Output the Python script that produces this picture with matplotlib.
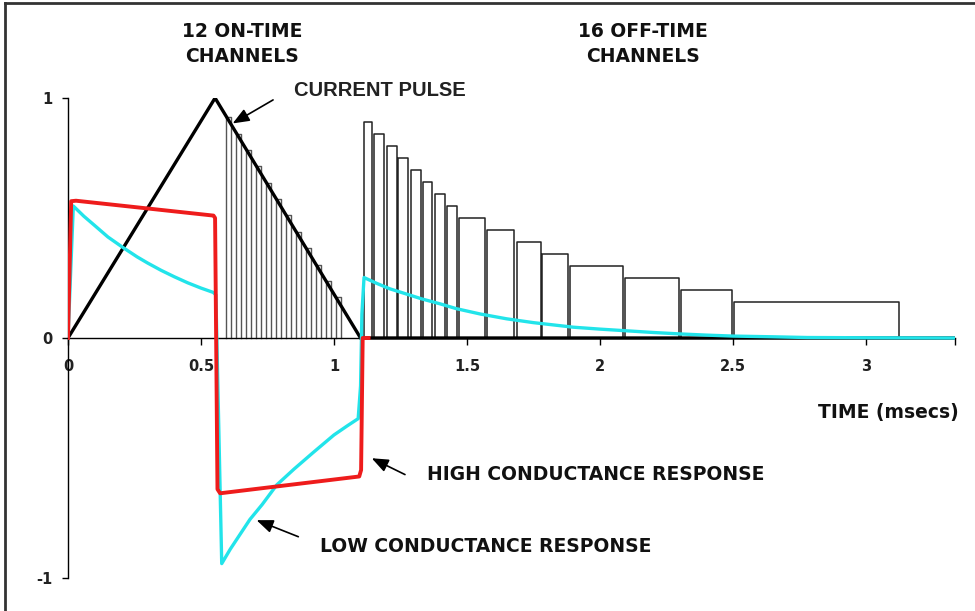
import matplotlib
matplotlib.use("Agg")
import matplotlib.pyplot as plt
from matplotlib.lines import Line2D

plt.rcParams["axes.unicode_minus"] = False

# Pulso de corrente (triangulo) e canais
pulse_t = [0.0, 0.553, 1.10, 3.335]
pulse_v = [0.0, 1.0, 0.0, 0.0]

# 12 canais on-time (inicio, fim, altura)
on_start = [0.594, 0.632, 0.669, 0.707, 0.744, 0.782, 0.820, 0.857, 0.895, 0.932, 0.970, 1.008]
on_end = [0.613, 0.651, 0.688, 0.726, 0.763, 0.801, 0.839, 0.876, 0.914, 0.951, 0.989, 1.027]
on_height = [0.92, 0.851, 0.784, 0.716, 0.647, 0.579, 0.511, 0.442, 0.374, 0.306, 0.237, 0.169]

# 16 canais off-time
off_start = [1.113, 1.150, 1.199, 1.241, 1.289, 1.335, 1.380, 1.425,
             1.470, 1.575, 1.688, 1.782, 1.887, 2.094, 2.305, 2.504]
off_end = [1.143, 1.188, 1.237, 1.278, 1.327, 1.368, 1.417, 1.462,
           1.568, 1.677, 1.778, 1.880, 2.086, 2.297, 2.496, 3.124]
off_height = [0.90, 0.85, 0.80, 0.75, 0.70, 0.65, 0.60, 0.55,
              0.50, 0.45, 0.40, 0.35, 0.30, 0.25, 0.20, 0.15]

# Resposta de alta condutancia (vermelho)
high_t = [0.0, 0.012, 0.03, 0.547, 0.553, 0.562, 0.572, 1.095, 1.102, 1.108, 1.13]
high_v = [0.0, 0.57, 0.572, 0.51, 0.50, -0.63, -0.647, -0.577, -0.55, 0.0, 0.0]

# Resposta de baixa condutancia (ciano)
low_t = [0.0, 0.02, 0.06, 0.10, 0.15, 0.208, 0.26, 0.30, 0.35, 0.40, 0.45, 0.50, 0.546,
         0.556, 0.578, 0.61, 0.65, 0.684, 0.73, 0.785, 0.85, 0.922, 1.00, 1.05, 1.091,
         1.100, 1.105, 1.113, 1.16, 1.21, 1.273, 1.33, 1.40, 1.461, 1.55, 1.649, 1.75,
         1.90, 2.00, 2.10, 2.20, 2.30, 2.40, 2.50, 2.65, 2.78, 3.00, 3.335]
low_v = [0.0, 0.55, 0.507, 0.469, 0.421, 0.376, 0.338, 0.312, 0.282, 0.255, 0.230, 0.208, 0.19,
         0.18, -0.94, -0.88, -0.813, -0.756, -0.694, -0.612, -0.546, -0.477, -0.404, -0.366, -0.336,
         -0.20, 0.10, 0.252, 0.228, 0.205, 0.183, 0.163, 0.142, 0.122, 0.100, 0.080, 0.064,
         0.045, 0.037, 0.030, 0.023, 0.017, 0.012, 0.008, 0.005, 0.002, 0.001, 0.0]

x_ticks = [0, 0.5, 1, 1.5, 2, 2.5, 3]
x_labels = ["0", "0.5", "1", "1.5", "2", "2.5", "3"]
y_ticks = [-1, 0, 1]
x_max = 3.335

W, H = 975, 611
fig = plt.figure(figsize=(W / 100, H / 100), dpi=100)
ax = fig.add_axes([68 / W, (H - 578) / H, (955 - 68) / W, 480 / H])

# monta os gates como polilinhas
def gates(starts, ends, heights):
    xs, ys = [], []
    for a, b, h in zip(starts, ends, heights):
        xs += [a, a, b, b, None]
        ys += [0, h, h, 0, None]
    return xs, ys

gx, gy = gates(on_start, on_end, on_height)
ax.plot(gx, gy, color="#555555", lw=1.0, zorder=2)
gx, gy = gates(off_start, off_end, off_height)
ax.plot(gx, gy, color="#222222", lw=1.1, zorder=2)

ax.plot(pulse_t, pulse_v, color="black", lw=2.4, zorder=3, solid_joinstyle="miter")
ax.plot(low_t, low_v, color="#22e4ea", lw=2.4, zorder=4)
ax.plot(high_t, high_v, color="#ee1c1c", lw=2.8, zorder=5)

ax.set_xlim(0, x_max)
ax.set_ylim(-1, 1)
for s in ["top", "right"]:
    ax.spines[s].set_visible(False)
ax.spines["bottom"].set_position(("data", 0))
ax.spines["left"].set_linewidth(1.0)
ax.spines["bottom"].set_linewidth(1.0)

ax.set_xticks(x_ticks)
ax.set_xticklabels(x_labels)
ax.set_xticks([x_max], minor=True)
ax.set_yticks(y_ticks)
ax.tick_params(axis="x", which="both", direction="out", length=5, width=1, pad=10)
ax.tick_params(axis="y", direction="out", length=4, width=1, pad=7)
for lab in ax.get_xticklabels() + ax.get_yticklabels():
    lab.set_fontweight("bold")
    lab.set_fontsize(10.5)
    lab.set_color("#222222")

bold = dict(fontsize=13.5, fontweight="bold", color="#111111", family="DejaVu Sans")
ax.text(0.654, 1.276, "12 ON-TIME", ha="center", va="center", **bold)
ax.text(0.654, 1.172, "CHANNELS", ha="center", va="center", **bold)
ax.text(2.162, 1.276, "16 OFF-TIME", ha="center", va="center", **bold)
ax.text(2.162, 1.172, "CHANNELS", ha="center", va="center", **bold)
ax.text(0.85, 1.033, "CURRENT PULSE", ha="left", va="center", fontsize=14.5,
        fontweight="bold", color="#222222", family="Liberation Sans")
ax.text(1.350, -0.569, "HIGH CONDUCTANCE RESPONSE", ha="left", va="center", **bold)
ax.text(0.947, -0.870, "LOW CONDUCTANCE RESPONSE", ha="left", va="center", **bold)
ax.text(2.82, -0.310, "TIME (msecs)", ha="left", va="center", **bold)

arrow = dict(arrowstyle="-|>,head_length=1.0,head_width=0.4", color="black", lw=1.2,
             shrinkA=0, shrinkB=0)
ax.annotate("", xy=(0.619, 0.894), xytext=(0.771, 0.992), arrowprops=arrow, zorder=6)
ax.annotate("", xy=(1.142, -0.501), xytext=(1.267, -0.569), arrowprops=arrow, zorder=6)
ax.annotate("", xy=(0.709, -0.759), xytext=(0.866, -0.828), arrowprops=arrow, zorder=6)

# moldura (topo e esquerda)
fig.add_artist(Line2D([5 / W, 5 / W], [0, 1 - 3 / H], color="#333333", lw=2))
fig.add_artist(Line2D([5 / W, 1], [1 - 3 / H, 1 - 3 / H], color="#333333", lw=2))

fig.savefig("out.png", dpi=100)
